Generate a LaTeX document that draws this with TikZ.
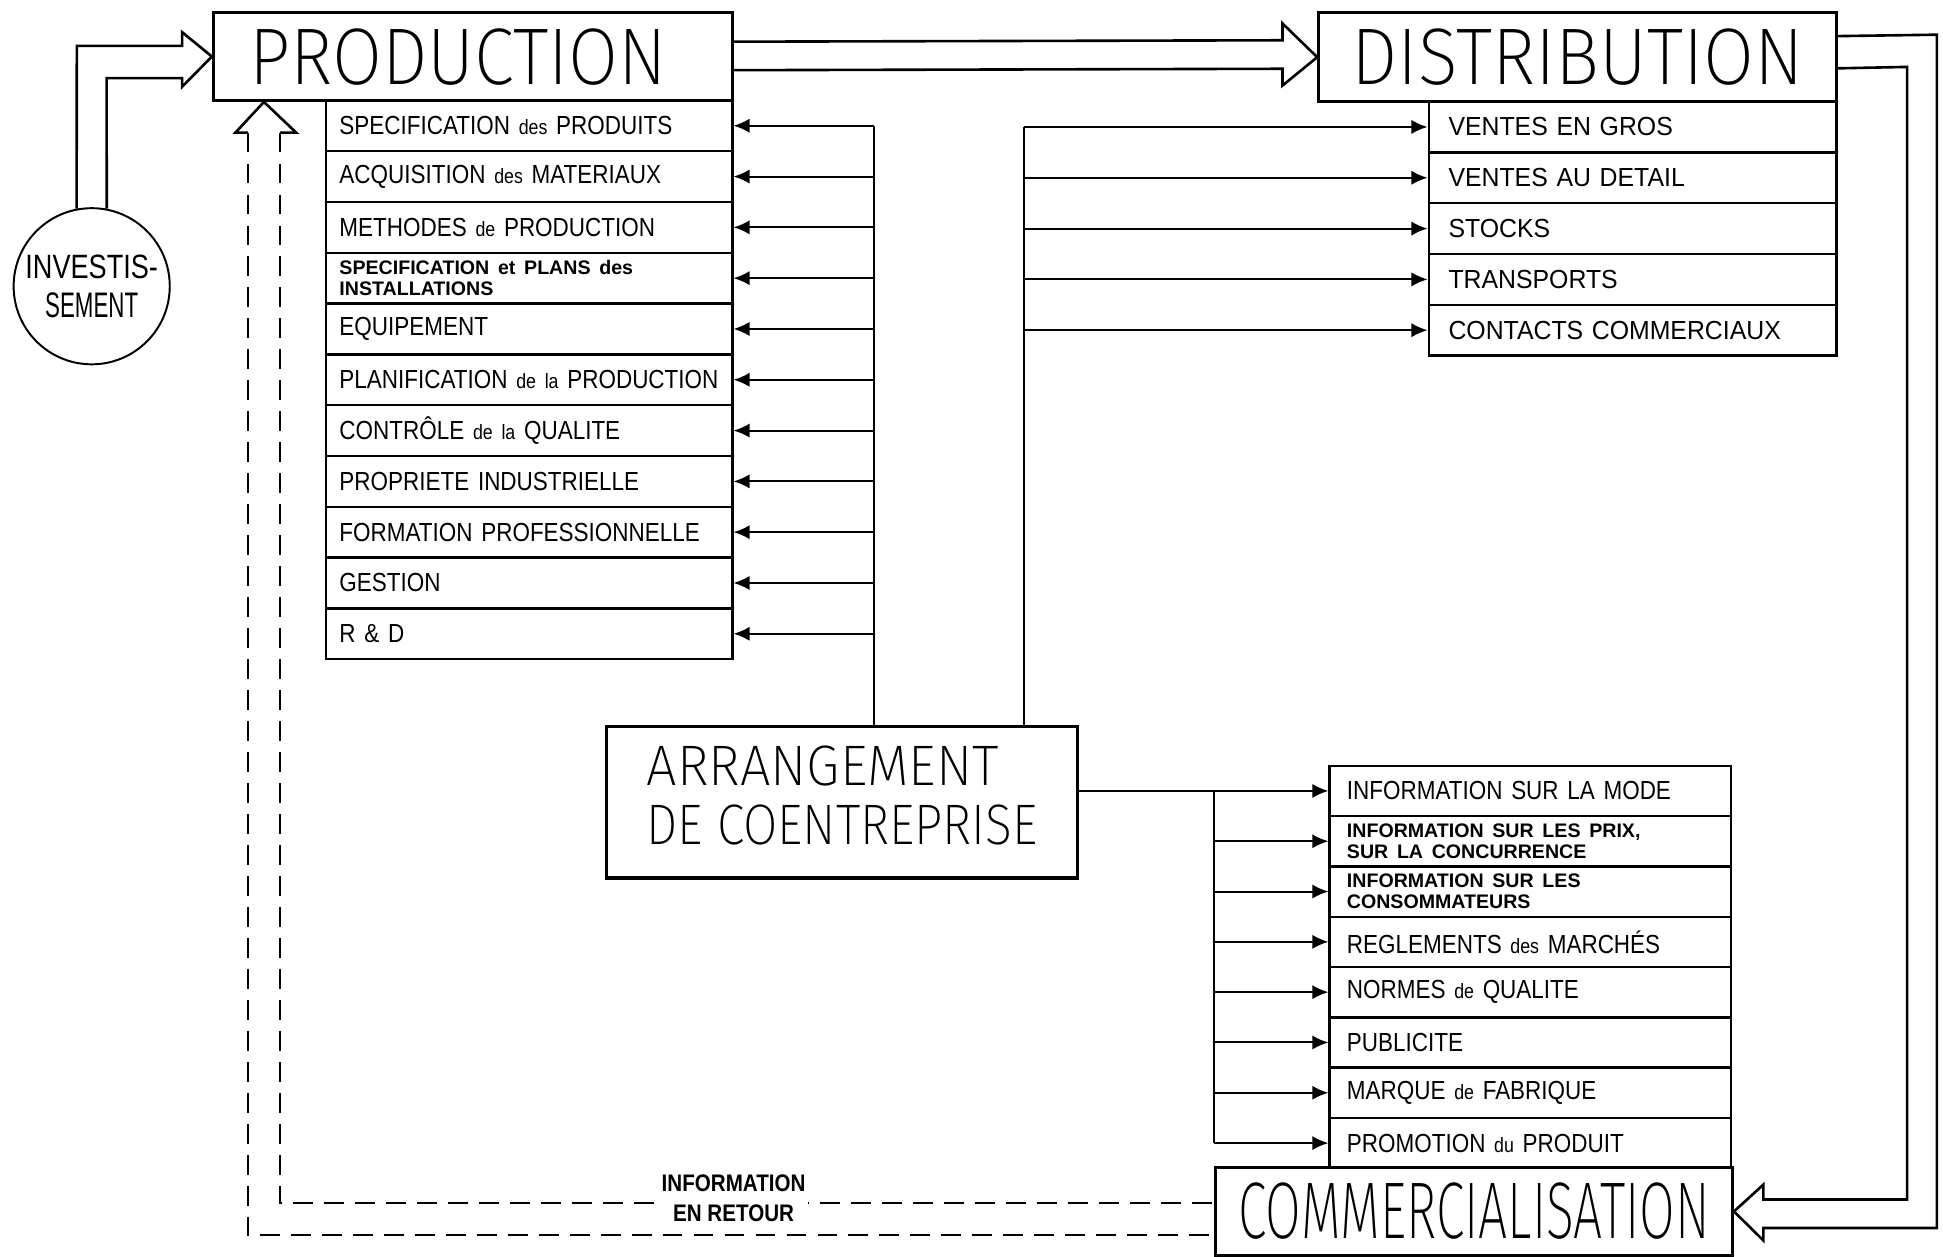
\documentclass[tikz,border=0pt]{standalone}
\usepackage{fontspec}
\usepackage{graphicx}
\setmainfont{Liberation Sans}
\newfontfamily\hand[FakeStretch=0.86]{Liberation Sans}
\newfontfamily\handwide[FakeStretch=0.95]{Liberation Sans}
\IfFontExistsTF{Fira Sans ExtraLight}
  {\newfontfamily\titlefont{Fira Sans ExtraLight}}
  {\IfFontExistsTF{Fira Sans Light}
    {\newfontfamily\titlefont{Fira Sans Light}}
    {\newfontfamily\titlefont{Liberation Sans}}}
\usetikzlibrary{arrows.meta,positioning}

% one unit of the picture
\newlength\px
\setlength\px{0.02cm}
\newcommand\fitbox[3]{\resizebox{#1\px}{#2\px}{#3}}
\newcommand\twoline[1]{\parbox{292\px}{\raggedright\rmfamily\bfseries\fontsize{9}{9.6}\selectfont #1}}
\newcommand\lc[1]{{\fontsize{9.5}{12}\selectfont #1}}

\tikzset{
  box/.style={draw, line width=1.3pt, inner sep=0pt, anchor=north west},
  titlebox/.style={box, minimum height=71\px},
  prodrow/.style={box, line width=1.1pt, minimum height=41\px, inner xsep=11\px,
    text width=306\px, align=left, font=\hand\fontsize{12}{14}\selectfont},
  distrow/.style={prodrow, inner xsep=16\px, text width=297\px,
    font=\handwide\fontsize{12}{14}\selectfont},
  commrow/.style={prodrow, minimum height=40.6\px, inner xsep=14\px, text width=296\px},
  pointer/.style={-{Latex[length=2.6mm,width=2.3mm]}, line width=0.9pt},
  bus/.style={line width=0.9pt},
  hollow/.style={line width=1.2pt},
  feedback/.style={line width=0.9pt, dash pattern=on 3.2mm off 1.8mm},
}

\begin{document}
\begin{tikzpicture}[x=0.02cm, y=-0.02cm]
\useasboundingbox (0,0) rectangle (1568,1014);

% main blocks
\node[titlebox, minimum width=419\px] (prod) at (171,9) {\fitbox{337}{45}{\titlefont PRODUCTION}\hspace*{24\px}};
\node[titlebox, minimum width=418\px, minimum height=72\px] (dist) at (1063,9) {\fitbox{365}{45}{\titlefont DISTRIBUTION}};
\node[titlebox, minimum width=417\px] (comm) at (980,941) {\fitbox{380}{45}{\titlefont COMMERCIALISATION}};
\node[box, line width=1.6pt, minimum width=380\px, minimum height=122\px, align=left,
  font=\fontsize{20}{27.2}\selectfont] (arr) at (488,585)
  {\fitbox{284}{32}{\titlefont ARRANGEMENT}\\\fitbox{315}{32}{\titlefont DE COENTREPRISE}\rule[-12\px]{0pt}{12\px}};
\node[draw, circle, line width=0.9pt, minimum size=126\px, inner sep=0pt, align=center,
  font=\hand\fontsize{15}{18.1}\selectfont] (inv) at (74,231)
  {\fitbox{107}{19}{INVESTIS-}\\\fitbox{75}{20}{SEMENT}};

% lists
\foreach \txt [count=\i from 0] in {SPECIFICATION \lc{des} PRODUITS, ACQUISITION \lc{des} MATERIAUX,
  METHODES \lc{de} PRODUCTION, {\twoline{SPECIFICATION et PLANS des\\INSTALLATIONS}},
  EQUIPEMENT, PLANIFICATION \lc{de la} PRODUCTION, CONTRÔLE \lc{de la} QUALITE,
  PROPRIETE INDUSTRIELLE, FORMATION PROFESSIONNELLE, GESTION, R \& D}
  \node[prodrow] (p\i) at (262,80+41*\i) {\mbox{\txt}};

\foreach \txt [count=\i from 0] in {VENTES EN GROS, VENTES AU DETAIL, STOCKS,
  TRANSPORTS, CONTACTS COMMERCIAUX}
  \node[distrow] (d\i) at (1152,81+41*\i) {\txt};

\foreach \txt [count=\i from 0] in {INFORMATION SUR LA MODE,
  {\twoline{INFORMATION SUR LES PRIX,\\SUR LA CONCURRENCE}},
  {\twoline{INFORMATION SUR LES\\CONSOMMATEURS}},
  REGLEMENTS \lc{des} MARCHÉS, NORMES \lc{de} QUALITE, PUBLICITE, MARQUE \lc{de} FABRIQUE,
  PROMOTION \lc{du} PRODUIT}
  \node[commrow] (c\i) at (1072,617+40.6*\i) {\mbox{\txt}};

% connectors from the arrangement
\coordinate (bus1) at (705,0);
\coordinate (bus2) at (826,0);
\coordinate (bus3) at (980,0);
\draw[bus] (bus1 |- arr.north) -- (bus1 |- p0.east);
\foreach \i in {0,...,10}
  \draw[pointer] (bus1 |- p\i.east) -- (p\i.east);
\draw[bus] (bus2 |- arr.north) -- (bus2 |- d0.west);
\foreach \i in {0,...,4}
  \draw[pointer] (bus2 |- d\i.west) -- (d\i.west);
\draw[pointer] (arr.east |- c0.west) -- (c0.west);
\draw[bus] (bus3 |- c0.west) -- (bus3 |- c7.west);
\foreach \i in {1,...,7}
  \draw[pointer] (bus3 |- c\i.west) -- (c\i.west);

% hollow arrows
\draw[hollow] (inv.101) -- (62,37) -- (147,37) -- (147,26) -- (prod.west)
  -- (147,70) -- (147,63) -- (86,63) -- (inv.79);
\draw[hollow] ([yshift=12\px]prod.east) -- (1035,32.5) -- (1035,19) -- (dist.west)
  -- (1035,69) -- (1035,55.5) -- ([yshift=-11\px]prod.east);
\draw[hollow] ([yshift=17\px]dist.east) -- (1563,28) -- (1563,991) -- (1423,991)
  -- (1423,1001) -- (comm.east) -- (1423,956) -- (1423,968) -- (1539,968)
  -- (1539,54) -- ([yshift=-9\px]dist.east);

% feedback
\coordinate (fb1) at (200,997);
\coordinate (fb2) at (226,971);
\draw[hollow] (200,107) -- (190,107) -- ([xshift=42\px]prod.south west) -- (239,107) -- (226,107);
\draw[feedback] (200,107) -- (fb1) -- (fb1 -| comm.west);
\draw[feedback] (226,107) -- (fb2) -- (fb2 -| comm.west);
\node[fill=white, inner sep=1pt, align=center, font=\hand\bfseries\fontsize{11}{13.6}\selectfont]
  (fbl) at (592,967) {INFORMATION\\EN RETOUR};
\end{tikzpicture}
\end{document}
